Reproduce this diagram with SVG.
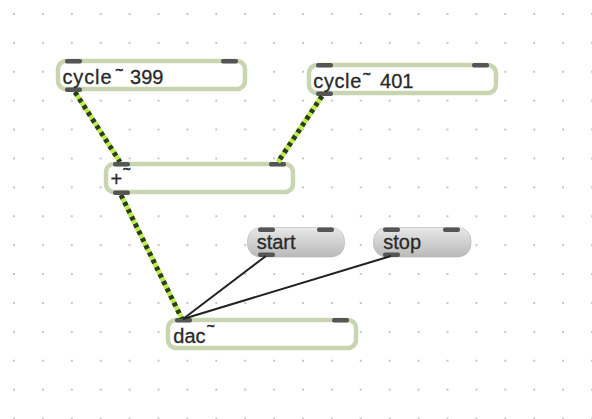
<svg xmlns="http://www.w3.org/2000/svg" width="592" height="419" viewBox="0 0 592 419">
<style>
.obj{fill:#fff;stroke:#c9d5b1;stroke-width:4.5}
.msg{fill:url(#mg);stroke:#b4b4b4;stroke-width:0.6}
.port{fill:#555}
.t{font-family:"Liberation Sans",Arial,sans-serif;font-size:20px;fill:#2a2a2a;stroke:#2a2a2a;stroke-width:0.3}
.tl{font-size:13px;stroke-width:0.8}
.sigbg{stroke:#b9f046;stroke-width:5;fill:none}
.sig{stroke:#2e3a22;stroke-width:5;stroke-dasharray:4 4;fill:none}
.ctl{stroke:#222;stroke-width:2;fill:none}
</style>
<defs>
<pattern id="grid" x="0" y="0" width="28.9" height="28.9" patternUnits="userSpaceOnUse">
<circle cx="14" cy="14" r="1" fill="#b4b4b4"/>
</pattern>
<linearGradient id="mg" x1="0" y1="0" x2="0" y2="1">
<stop offset="0" stop-color="#e8e8e8"/>
<stop offset="1" stop-color="#b9b9b9"/>
</linearGradient>
</defs>
<rect width="592" height="419" fill="#fff"/>
<rect width="592" height="419" fill="url(#grid)"/>

<g id="cycle399">
<rect class="obj" x="58" y="61" width="187" height="28" rx="8"/>
<rect class="port" x="65" y="59" width="17" height="4.5" rx="2"/>
<rect class="port" x="221" y="59" width="17" height="4.5" rx="2"/>
<rect class="port" x="65" y="87.5" width="17" height="4.5" rx="2"/>
<text class="t" x="62.5" y="83.5"><tspan textLength="49">cycle</tspan><tspan class="tl" x="115.5" y="74">~</tspan><tspan x="124.5" y="83.5"> 399</tspan></text>
</g>

<g id="cycle401">
<rect class="obj" x="309" y="65" width="187" height="28" rx="8"/>
<rect class="port" x="316" y="63" width="17" height="4.5" rx="2"/>
<rect class="port" x="472" y="63" width="17" height="4.5" rx="2"/>
<rect class="port" x="316" y="91.5" width="17" height="4.5" rx="2"/>
<text class="t" x="313.3" y="87.5"><tspan textLength="48">cycle</tspan><tspan class="tl" x="363" y="78">~</tspan><tspan x="374.5" y="87.5"> 401</tspan></text>
</g>

<g id="plus">
<rect class="obj" x="106" y="164" width="187" height="28" rx="8"/>
<rect class="port" x="113" y="162" width="17" height="4.5" rx="2"/>
<rect class="port" x="269" y="162" width="17" height="4.5" rx="2"/>
<rect class="port" x="113" y="190.5" width="17" height="4.5" rx="2"/>
<text class="t" x="110.5" y="186">+<tspan class="tl" x="123" y="173">~</tspan></text>
</g>

<g id="start">
<rect class="msg" x="247.5" y="227.5" width="97" height="29.5" rx="13"/>
<rect class="port" x="258" y="227.5" width="17" height="4.5" rx="2"/>
<rect class="port" x="317" y="227.5" width="17" height="4.5" rx="2"/>
<rect class="port" x="258" y="252.5" width="17" height="4.5" rx="2"/>
<text class="t" x="256.7" y="249.3">start</text>
</g>

<g id="stop">
<rect class="msg" x="373.5" y="227.5" width="97.5" height="29.5" rx="13"/>
<rect class="port" x="383" y="227.5" width="17" height="4.5" rx="2"/>
<rect class="port" x="443" y="227.5" width="17" height="4.5" rx="2"/>
<rect class="port" x="383" y="252.5" width="17" height="4.5" rx="2"/>
<text class="t" x="383.3" y="249.3">stop</text>
</g>

<g id="dac">
<rect class="obj" x="168" y="320" width="188" height="28" rx="8"/>
<rect class="port" x="175" y="318" width="17" height="4.5" rx="2"/>
<rect class="port" x="332" y="318" width="17" height="4.5" rx="2"/>
<text class="t" x="173.3" y="343"><tspan>dac</tspan><tspan class="tl" x="207" y="329.5">~</tspan></text>
</g>

<g id="connectors">
<line class="sigbg" x1="75" y1="92" x2="120" y2="162"/>
<line class="sig" x1="75" y1="92" x2="120" y2="162"/>
<line class="sigbg" x1="322" y1="96" x2="278" y2="162"/>
<line class="sig" x1="322" y1="96" x2="278" y2="162"/>
<line class="sigbg" x1="121" y1="195" x2="182" y2="319"/>
<line class="sig" x1="121" y1="195" x2="182" y2="319"/>
<line class="ctl" x1="266" y1="256" x2="183" y2="319"/>
<line class="ctl" x1="391" y1="256" x2="183" y2="319"/>
</g>
</svg>
